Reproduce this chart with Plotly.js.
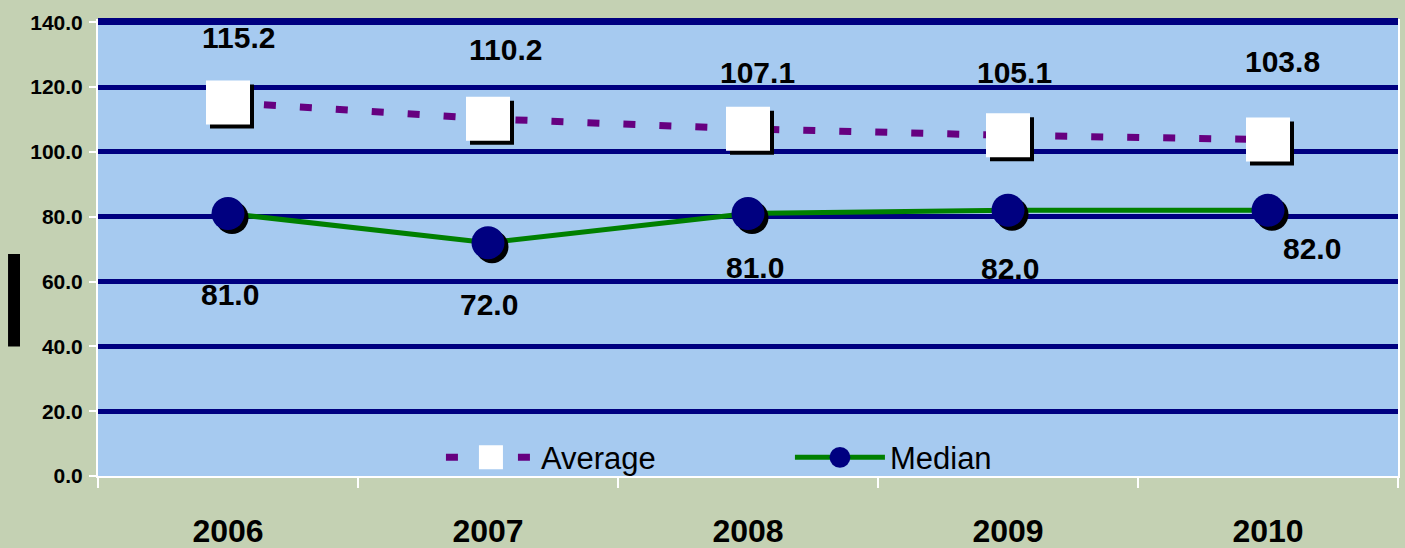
<!DOCTYPE html>
<html><head><meta charset="utf-8">
<script src="https://cdn.plot.ly/plotly-3.0.1.min.js"></script>
<style>
html,body{margin:0;padding:0;background:#C4D1B3;}
#chart{width:1405px;height:548px;}
.scatterlayer .points path{filter:drop-shadow(4px 4px 0px #000);}
</style></head><body>
<div id="chart"></div>
<script>
const years = ['2006','2007','2008','2009','2010'];
const averageValues = [115.2, 110.2, 107.1, 105.1, 103.8];
const medianValues = [81.0, 72.0, 81.0, 82.0, 82.0];
const yTickValues = [0, 20, 40, 60, 80, 100, 120, 140];

// label placement offsets (px) - style only
const avgShiftX = [10, 17, 9, 6, 14];
const avgShiftY = [65, 69, 56, 63, 78];
const medShiftX = [2, 1, 7, 2, 44];
const medShiftY = [-81, -62, -54, -58, -38];

const labelFont = {family:'Liberation Sans, Arial, sans-serif', size:30, color:'#000000'};

const annotations = [];
years.forEach((y,i)=>{
  annotations.push({x:i, y:averageValues[i], xref:'x', yref:'y', text:'<b>'+averageValues[i].toFixed(1)+'</b>',
    showarrow:false, xshift:avgShiftX[i], yshift:avgShiftY[i], font:labelFont});
  annotations.push({x:i, y:medianValues[i], xref:'x', yref:'y', text:'<b>'+medianValues[i].toFixed(1)+'</b>',
    showarrow:false, xshift:medShiftX[i], yshift:medShiftY[i], font:labelFont});
});

const traces = [
  {x:years, y:averageValues, name:'Average', type:'scatter', mode:'lines+markers',
   line:{color:'#660080', width:7, dash:'12px,24px'},
   marker:{symbol:'square', size:44, color:'#FFFFFF', line:{width:0}}},
  {x:years, y:medianValues, name:'Median', type:'scatter', mode:'lines+markers',
   line:{color:'#008000', width:5},
   marker:{symbol:'circle', size:33, color:'#000080', line:{width:0}}}
];

const layout = {
  width:1405, height:548,
  paper_bgcolor:'#C4D1B3', plot_bgcolor:'#A6CAF0',
  margin:{l:98, r:7, t:19, b:72},
  showlegend:true,
  legend:{orientation:'h', x:0.2638, xanchor:'left', y:0.04, yanchor:'middle',
    bgcolor:'rgba(0,0,0,0)', font:{family:'Liberation Sans, Arial, sans-serif', size:31, color:'#000'},
    entrywidth:244, entrywidthmode:'pixels', itemwidth:90},
  xaxis:{type:'category', range:[-0.5,4.5], showgrid:false, zeroline:false,
    showline:true, linecolor:'#FFFFFF', linewidth:2, mirror:false,
    ticks:'outside', tickson:'boundaries', ticklen:10, tickcolor:'#FFFFFF', tickwidth:2,
    tickfont:{family:'Liberation Sans, Arial, sans-serif', size:32, color:'#000', weight:'bold'},
    ticklabelstandoff:26, fixedrange:true},
  yaxis:{range:[0,141], tickvals:yTickValues, ticktext:yTickValues.map(v=>v.toFixed(1)),
    showgrid:true, gridcolor:'#000080', gridwidth:5, zeroline:false,
    showline:true, linecolor:'#FFFFFF', linewidth:2, mirror:true,
    ticks:'outside', ticklen:7, tickcolor:'#FFFFFF', tickwidth:2,
    tickfont:{family:'Liberation Sans, Arial, sans-serif', size:21, color:'#000', weight:'bold'},
    ticklabelstandoff:2, fixedrange:true},
  annotations:annotations,
  shapes:[
    {type:'line', xref:'paper', yref:'paper', x0:0, x1:1, y0:1, y1:1, line:{color:'#000080', width:2}},
    {type:'rect', xref:'paper', yref:'paper', x0:-0.0692, x1:-0.06, y0:0.2835, y1:0.4857,
     fillcolor:'#000000', line:{width:0}}
  ]
};

Plotly.newPlot('chart', traces, layout, {displayModeBar:false, staticPlot:true}).then(gd=>{
  // enlarge legend marker glyphs (legend caps marker size)
  const scales = [1.5, 1.3];
  gd.querySelectorAll('.legend .traces').forEach((tr, i)=>{
    tr.querySelectorAll('.legendpoints path.scatterpts').forEach(p=>{
      const t = p.getAttribute('transform') || '';
      p.setAttribute('transform', t + ' scale(' + (scales[i] || 1.4) + ')');
    });
  });
});
</script>
</body></html>
